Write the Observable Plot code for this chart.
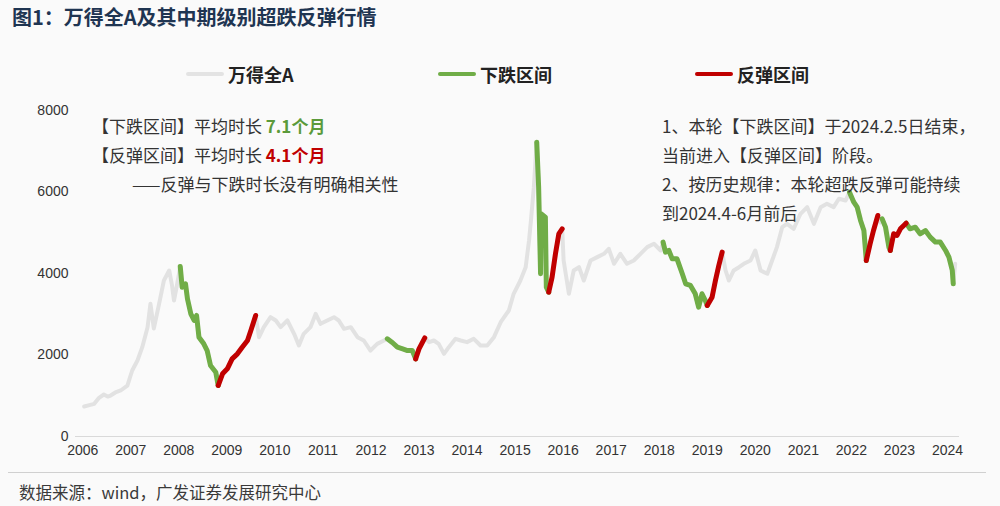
<!DOCTYPE html>
<html><head><meta charset="utf-8">
<script src="https://cdn.jsdelivr.net/npm/d3@7"></script>
<script src="https://cdn.jsdelivr.net/npm/@observablehq/plot@0.6"></script>
<style>
body{margin:0;background:#fafafa;font-family:"Noto Sans CJK SC","Noto Sans",sans-serif;}
#wrap{position:relative;width:1000px;height:506px;overflow:hidden;}
.title{position:absolute;left:12px;top:5px;font-size:20px;line-height:24px;font-weight:bold;color:#1f3552;}
.leg{position:absolute;top:62px;height:24px;display:flex;align-items:center;font-size:18px;font-weight:bold;color:#222;}
.leg i{display:inline-block;width:38px;height:4px;margin-right:4px;border-radius:2px;}
#chart{position:absolute;left:0;top:95px;}
.ann{position:absolute;font-size:17px;line-height:20px;color:#333;white-space:nowrap;}
.g{color:#5b9a3a;font-weight:bold;}
.r{color:#c00000;font-weight:bold;}
.foot{position:absolute;left:19px;top:482px;font-size:16.5px;line-height:20px;color:#3a3a3a;}
.sep{position:absolute;left:8px;top:472px;width:978px;height:1px;background:#d0d0d0;}
</style></head>
<body>
<div id="wrap">
  <div class="title">图1：万得全A及其中期级别超跌反弹行情</div>
  <div class="leg" style="left:186px"><i style="background:#e3e3e3"></i>万得全A</div>
  <div class="leg" style="left:438px"><i style="background:#70ad47"></i>下跌区间</div>
  <div class="leg" style="left:695px"><i style="background:#c00000"></i>反弹区间</div>
  <div id="chart"></div>
  <div class="ann" style="left:92px;top:116px">【下跌区间】平均时长 <span class="g">7.1个月</span></div>
  <div class="ann" style="left:92px;top:145px">【反弹区间】平均时长 <span class="r">4.1个月</span></div>
  <div class="ann" style="left:132px;top:174px">——反弹与下跌时长没有明确相关性</div>
  <div class="ann" style="left:662px;top:116px">1、本轮【下跌区间】于2024.2.5日结束，</div>
  <div class="ann" style="left:662px;top:145px">当前进入【反弹区间】阶段。</div>
  <div class="ann" style="left:662px;top:174px">2、按历史规律：本轮超跌反弹可能持续</div>
  <div class="ann" style="left:662px;top:203px">到2024.4-6月前后</div>
  <div class="sep"></div>
  <div class="foot">数据来源：wind，广发证券发展研究中心</div>
</div>
<script>
// 万得全A: decimal year / index level
const dates = [
 2006.03,2006.14,2006.24,2006.34,2006.44,2006.52,2006.58,2006.68,2006.79,2006.93,
 2007.03,2007.14,2007.24,2007.35,2007.41,2007.48,2007.59,2007.69,2007.80,2007.86,2007.90,2007.96,
 2008.03,2008.07,2008.14,2008.18,2008.25,2008.32,2008.37,2008.42,2008.52,2008.59,2008.66,2008.77,2008.82,
 2008.91,2009.01,2009.11,2009.22,2009.32,2009.43,2009.50,2009.60,
 2009.67,2009.77,2009.91,2010.02,2010.12,2010.26,2010.40,2010.50,2010.60,2010.74,2010.85,2010.95,
 2011.09,2011.23,2011.33,2011.44,2011.58,2011.72,2011.85,2011.99,2012.13,2012.27,2012.34,
 2012.45,2012.55,2012.66,2012.76,2012.86,2012.93,2013.00,2013.12,
 2013.21,2013.31,2013.41,2013.52,2013.62,2013.76,2013.87,2014.00,2014.14,2014.28,2014.42,2014.56,
 2014.70,2014.87,2014.97,2015.11,2015.22,2015.29,2015.33,2015.39,2015.45,
 2015.49,2015.53,2015.54,2015.63,2015.65,2015.70,2015.77,2015.84,2015.91,2015.98,
 2016.01,2016.12,2016.22,2016.33,2016.43,2016.57,2016.71,2016.85,2016.95,2017.06,2017.19,2017.33,
 2017.47,2017.61,2017.75,2017.89,2018.03,2018.08,
 2018.13,2018.20,2018.27,2018.37,2018.48,2018.55,2018.65,2018.75,2018.82,2018.89,2018.96,2019.00,
 2019.10,2019.17,2019.24,2019.31,
 2019.38,2019.45,2019.55,2019.66,2019.76,2019.90,2020.00,2020.11,2020.25,2020.35,2020.45,2020.56,
 2020.66,2020.80,2020.94,2021.08,2021.22,2021.36,2021.49,2021.63,2021.74,2021.88,2021.96,
 2022.05,2022.12,2022.19,2022.26,2022.31,2022.39,2022.46,2022.55,2022.60,2022.64,
 2022.71,2022.78,2022.81,2022.88,2022.95,2023.02,2023.09,2023.14,
 2023.22,2023.33,2023.43,2023.54,2023.64,2023.75,2023.85,2023.96,2024.03,2024.10,2024.12,2024.16
];
const wind = [
 736,770,802,950,1030,980,1006,1080,1129,1251,
 1620,1865,2192,2683,3256,2650,3256,3828,4074,3700,3337,3700,
 4172,3664,3747,3379,3011,2847,2970,2437,2274,2110,1742,1578,1251,
 1538,1661,1906,2029,2192,2356,2601,2970,
 2437,2683,2928,2847,2683,2847,2520,2233,2520,2683,3011,2765,
 2847,2928,2847,2642,2683,2437,2356,2110,2274,2356,2397,
 2300,2192,2150,2110,2110,1906,2151,2421,
 2315,2356,2274,2029,2192,2397,2356,2315,2397,2233,2233,2437,
 2805,3092,3502,3828,4155,4810,5300,6118,7222,
 6118,3993,5465,5383,3665,3542,3910,4483,4974,5097,
 4319,3502,4074,4155,3828,4319,4401,4483,4606,4238,4483,4238,
 4319,4483,4647,4729,4565,4770,
 4524,4565,4360,4360,3993,3747,3706,3502,3173,3502,3337,3215,
 3419,3828,4196,4524,
 4074,3828,4074,4155,4238,4319,4565,4074,3993,4319,4647,5137,
 5219,5097,5465,5628,5219,5628,5710,5628,5833,5792,5995,
 5750,5628,5301,5055,4319,4729,5055,5423,5250,5342,
 5137,4647,4565,4974,4933,5097,5178,5235,
 5097,5137,4974,5055,4892,4770,4770,4565,4401,4074,3747,4238
];
// 下跌区间 / 反弹区间 (start, end) in decimal years
const downStart = [2008.03, 2012.34, 2015.45, 2018.08, 2021.96, 2022.64, 2023.14];
const downEnd   = [2008.82, 2012.93, 2015.70, 2019.00, 2022.31, 2022.81, 2024.12];
const upStart   = [2008.82, 2012.93, 2015.70, 2019.00, 2022.31, 2022.81];
const upEnd     = [2009.60, 2013.12, 2015.98, 2019.31, 2022.55, 2023.14];
const yearTicks = [2006,2007,2008,2009,2010,2011,2012,2013,2014,2015,2016,2017,2018,2019,2020,2021,2022,2023,2024];
const valueTicks = [0,2000,4000,6000,8000];

const data = dates.map((t,i)=>({t, v: wind[i]}));
function pick(starts, ends){
  const out = [];
  starts.forEach((s,k)=>{
    data.forEach(p=>{ if (p.t >= s-1e-6 && p.t <= ends[k]+1e-6) out.push({t:p.t, v:p.v, seg:k}); });
  });
  return out;
}
const down = pick(downStart, downEnd);
const up = pick(upStart, upEnd);

const chart = Plot.plot({
  width: 1000, height: 370,
  marginTop: 15, marginBottom: 29, marginLeft: 75, marginRight: 41,
  style: {background: "transparent", fontSize: "14px", fontFamily: "'Liberation Sans','Noto Sans',sans-serif", color: "#333"},
  x: {domain: [2005.85, 2024.25], ticks: yearTicks, tickFormat: d=>String(d), tickSize: 0, tickPadding: 9, label: null},
  y: {domain: [0, 8000], ticks: valueTicks, tickFormat: d=>String(d), tickSize: 0, tickPadding: 7, label: null},
  marks: [
    Plot.ruleY([0], {stroke: "#d9d9d9", strokeWidth: 1}),
    Plot.line(data, {x: "t", y: "v", stroke: "#e2e2e2", strokeWidth: 4, strokeLinejoin: "round", strokeLinecap: "round"}),
    Plot.line(down, {x: "t", y: "v", z: "seg", stroke: "#70ad47", strokeWidth: 5, strokeLinejoin: "round", strokeLinecap: "round"}),
    Plot.line(up, {x: "t", y: "v", z: "seg", stroke: "#c00000", strokeWidth: 5, strokeLinejoin: "round", strokeLinecap: "round"})
  ]
});
document.getElementById("chart").appendChild(chart);
</script>
</body></html>
